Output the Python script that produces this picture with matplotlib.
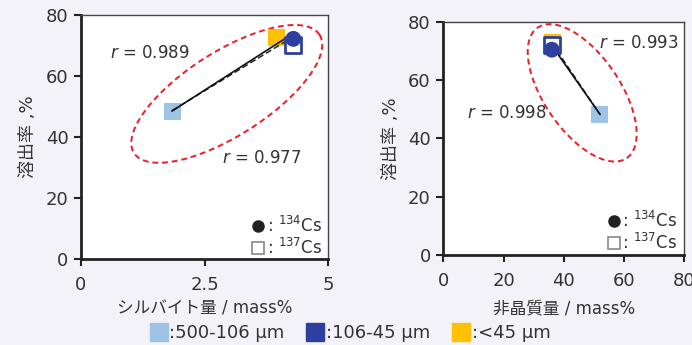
import numpy as np
import matplotlib.pyplot as plt
from matplotlib.lines import Line2D

plt.rcParams['font.family'] = ['DejaVu Sans', 'Noto Sans CJK JP']
plt.rcParams['mathtext.fontset'] = 'dejavusans'

# particle size fractions
sizes = [':500-106 μm', ':106-45 μm', ':<45 μm']
colors = ['#9dc3e6', '#2f3f9e', '#ffc000']

# left: sylvite content (mass%) vs leaching ratio (%)
syl_x = [1.84, 4.29, 3.95]
syl_cs134 = [48.2, 72.1, 72.5]
syl_cs137 = [48.2, 70.2, 72.5]
syl_r = ['0.989', '0.977']

# right: amorphous content (mass%) vs leaching ratio (%)
amo_x = [52.0, 36.0, 36.4]
amo_cs134 = [48.2, 70.4, 72.8]
amo_cs137 = [48.2, 72.0, 72.8]
amo_r = ['0.993', '0.998']

bg = '#f3f2f9'
txt = '#333333'

fig = plt.figure(figsize=(6.92, 3.45), dpi=100, facecolor=bg)
ax1 = fig.add_axes([0.117, 0.2484, 0.3577, 0.709])
ax2 = fig.add_axes([0.6406, 0.2609, 0.3483, 0.6762])


def ellipse(ax, cx, cy, a, b, ang, xr, yr):
    # a, b in pixels; convert to data units using axes size
    pos = ax.get_position()
    sx = pos.width * fig.get_figwidth() * fig.dpi / (xr[1] - xr[0])
    sy = pos.height * fig.get_figheight() * fig.dpi / (yr[1] - yr[0])
    t = np.linspace(0, 2 * np.pi, 300)
    th = np.radians(ang)
    u = a * np.cos(t)
    v = b * np.sin(t)
    dx = u * np.cos(th) - v * np.sin(th)
    dy = u * np.sin(th) + v * np.cos(th)
    ax.plot(cx + dx / sx, cy + dy / sy, color='#ee1c25', ls=(0, (3, 2)),
            lw=1.4, zorder=2)


def panel(ax, x, y134, y137, xr, xticks, xticklabels, xlabel, xpad):
    ax.set_facecolor('white')
    ax.set_xlim(*xr)
    ax.set_ylim(0, 80)
    ax.set_yticks([0, 20, 40, 60, 80])
    ax.set_xticks(xticks)
    ax.set_xticklabels(xticklabels)
    for s in ['left', 'bottom']:
        ax.spines[s].set_linewidth(2.0)
        ax.spines[s].set_color('#222222')
    for s in ['top', 'right']:
        ax.spines[s].set_linewidth(1.0)
        ax.spines[s].set_color('#444444')
    ax.tick_params(direction='out', length=5, width=1.5, color='#222222',
                   labelsize=13, labelcolor=txt)
    ax.tick_params(axis='x', pad=7)
    ax.tick_params(axis='y', pad=4)
    ax.set_xlabel(xlabel, fontsize=12, color=txt, labelpad=xpad)
    ax.set_ylabel('溶出率 ,%', fontsize=13, color=txt, labelpad=6)

    # trend lines
    xs = np.array([min(x), max(x)])
    p1 = np.polyfit(x, y134, 1)
    p2 = np.polyfit(x, y137, 1)

    # yellow (<45) first, then lines, then others
    ax.scatter(x[2], y137[2], marker='s', s=150, color=colors[2], zorder=3,
               edgecolors='none')
    ax.scatter(x[0], y137[0], marker='s', s=150, color=colors[0], zorder=3,
               edgecolors='none')
    ax.plot(xs, np.polyval(p2, xs), color='#222222', lw=1.1, ls=(0, (4, 2)),
            zorder=4)
    ax.plot(xs, np.polyval(p1, xs), color='#111111', lw=1.2, zorder=4)
    ax.scatter(x[1], y137[1], marker='s', s=120, facecolor='white',
               edgecolors=colors[1], linewidths=2, zorder=5)
    ax.scatter(x[1], y134[1], marker='o', s=130, color=colors[1], zorder=6,
               edgecolors='none')

    h = [Line2D([], [], ls='none', marker='o', markersize=8,
                color='#222222'),
         Line2D([], [], ls='none', marker='s', markersize=9,
                markerfacecolor='white', markeredgecolor='#888888',
                markeredgewidth=1.2)]
    ax.legend(h, [': $^{134}$Cs', ': $^{137}$Cs'], loc='lower right',
              bbox_to_anchor=(1.0, -0.02), frameon=False, fontsize=12,
              handletextpad=0.0, handlelength=1.0, labelspacing=0.1,
              borderaxespad=0.0, labelcolor=txt)


panel(ax1, syl_x, syl_cs134, syl_cs137, (0, 5), [0, 2.5, 5],
      ['0', '2.5', '5'], 'シルバイト量 / mass%', 4)
panel(ax2, amo_x, amo_cs134, amo_cs137, (0, 80), [0, 20, 40, 60, 80],
      ['0', '20', '40', '60', '80'], '非晶質量 / mass%', 7)

ellipse(ax1, 2.945, 54.1, 110, 42, 32.5, (0, 5), (0, 80))
ellipse(ax2, 46.1, 55.6, 79, 38, -55.7, (0, 80), (0, 80))

ax1.text(1.4, 67.5, '$r$ = ' + syl_r[0], fontsize=12, color=txt,
         ha='center', va='center')
ax1.text(3.64, 33, '$r$ = ' + syl_r[1], fontsize=12, color=txt,
         ha='center', va='center')
ax2.text(65, 72.8, '$r$ = ' + amo_r[0], fontsize=12, color=txt,
         ha='center', va='center')
ax2.text(21, 48.8, '$r$ = ' + amo_r[1], fontsize=12, color=txt,
         ha='center', va='center')

handles = [Line2D([], [], ls='none', marker='s', markersize=13, color=c)
           for c in colors]
fig.legend(handles, sizes, loc='center', bbox_to_anchor=(0.506, 0.035),
           ncol=3, frameon=False, fontsize=13, handletextpad=0.1,
           handlelength=1.0, columnspacing=1.2, labelcolor=txt)

fig.savefig('out.png', dpi=100, facecolor=bg)
